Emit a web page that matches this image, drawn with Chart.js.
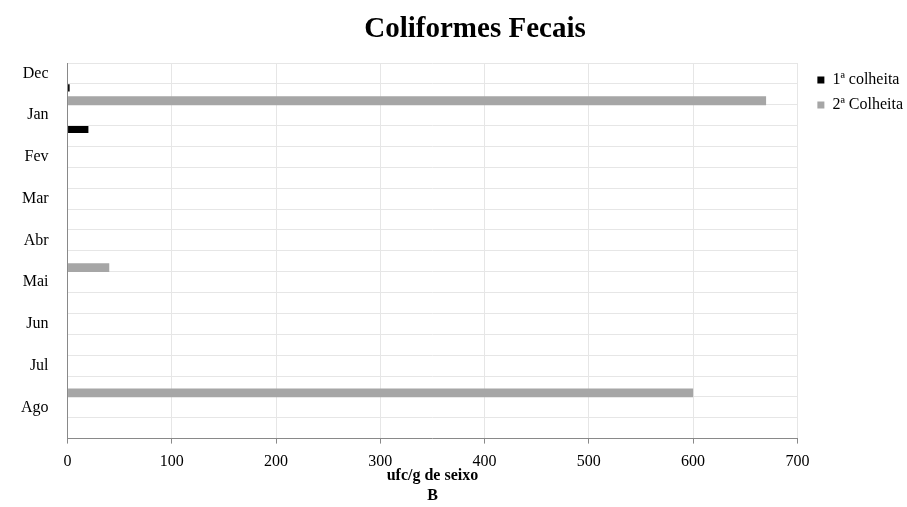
<!DOCTYPE html>
<html>
<head>
<meta charset="utf-8">
<script src="https://cdn.jsdelivr.net/npm/chart.js@4/dist/chart.umd.min.js"></script>
<style>
  html, body { margin: 0; padding: 0; background: #fff; }
</style>
</head>
<body>
<canvas id="chart" width="907" height="507"></canvas>
<script>
// 18 category slots, labels only on every other one (as in the original sheet)
var categories = ['Dec', '', 'Jan', '', 'Fev', '', 'Mar', '', 'Abr', '',
                  'Mai', '', 'Jun', '', 'Jul', '', 'Ago', ''];
var colheita1 = [0, 2, 0, 20, 0, 0, 0, 0, 0, 0, 0, 0, 0, 0, 0, 0, 0, 0];
var colheita2 = [0, 670, 0, 0, 0, 0, 0, 0, 0, 40, 0, 0, 0, 0, 0, 600, 0, 0];
var seriesNames = ['1ª colheita', '2ª Colheita'];
var xTitle = ['ufc/g de seixo', 'B'];
var chartTitle = 'Coliformes Fecais';

var serif = "'Liberation Serif', 'Times New Roman', serif";

// title is drawn by hand, Excel centers it a bit right of the canvas middle
var titlePlugin = {
  id: 'bigTitle',
  afterDraw: function(chart) {
    var ctx = chart.ctx;
    ctx.save();
    ctx.font = 'bold 29px ' + serif;
    ctx.fillStyle = '#000';
    ctx.textAlign = 'center';
    ctx.textBaseline = 'middle';
    ctx.fillText(chartTitle, 475, 30);
    ctx.restore();
  }
};

var elem = document.getElementById('chart');
var chart = new Chart(elem, {
  type: 'bar',
  data: {
    labels: categories,
    datasets: [{
      label: seriesNames[0],
      data: colheita1,
      backgroundColor: '#000000',
      barPercentage: 0.55,
      categoryPercentage: 1.24
    }, {
      label: seriesNames[1],
      data: colheita2,
      backgroundColor: '#a6a6a6',
      barPercentage: 0.68,
      categoryPercentage: 1.24
    }]
  },
  options: {
    indexAxis: 'y',
    responsive: false,
    animation: false,
    layout: { padding: { top: 63, right: -6, bottom: 0, left: 2 } },
    plugins: {
      title: { display: false },
      tooltip: { enabled: false },
      legend: {
        position: 'right',
        align: 'start',
        labels: {
          boxWidth: 7,
          boxHeight: 7,
          padding: 9,
          color: '#000',
          font: { family: serif, size: 16 }
        }
      }
    },
    scales: {
      x: {
        min: 0,
        max: 700,
        ticks: {
          stepSize: 100,
          padding: 11,
          color: '#000',
          font: { family: serif, size: 16, lineHeight: 0.875 }
        },
        grid: { color: '#e6e6e6', tickColor: '#898989', tickLength: 5 },
        border: { color: '#898989' },
        title: {
          display: true,
          text: xTitle,
          color: '#000',
          padding: { top: -13, bottom: 2 },
          font: { family: serif, size: 16, weight: 'bold', lineHeight: 1.2 }
        }
      },
      y: {
        ticks: {
          autoSkip: false,
          padding: 19,
          color: '#000',
          font: { family: serif, size: 16 }
        },
        grid: { color: '#e6e6e6', drawTicks: false },
        border: { color: '#898989' }
      },
      gap: {
        type: 'linear',
        position: 'right',
        display: true,
        grid: { display: false },
        border: { display: false },
        ticks: { display: false },
        afterFit: function(scale) { scale.width = 11; }
      }
    }
  },
  plugins: [titlePlugin]
});
</script>
</body>
</html>
